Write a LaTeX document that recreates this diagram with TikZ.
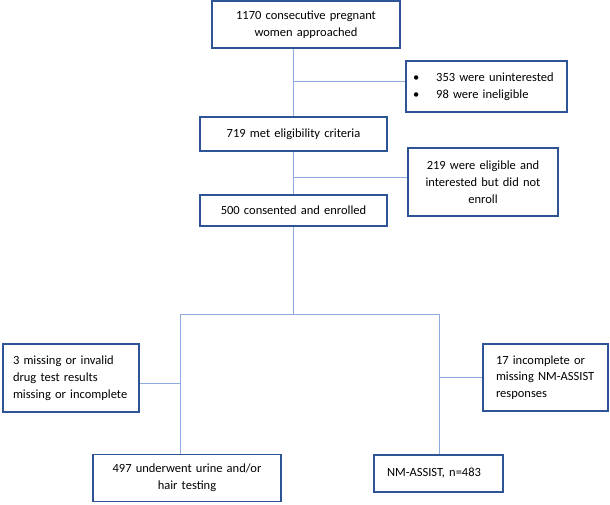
\documentclass[tikz,border=0pt]{standalone}
\usepackage{fontspec}
\setmainfont{Carlito}
\definecolor{boxblue}{HTML}{2F5496}
\definecolor{linkblue}{HTML}{8FAADC}
\tikzset{
  box/.style={draw=boxblue, line width=1.4pt, inner xsep=6pt, inner ysep=2pt,
    font=\fontsize{12.5}{16.8}\selectfont},
  link/.style={draw=linkblue, line width=1pt}
}
\begin{document}
\begin{tikzpicture}[x=1pt,y=-1pt]
\useasboundingbox (0,0) rectangle (610,504);
\node[box, text width=176pt, minimum height=47pt, align=center] (approached) at (306,24.5) {1170 consecutive pregnant\\women approached};
\node[box, text width=147pt, minimum height=51pt, align=left, inner xsep=7pt] (excluded) at (486.5,86.5) {\textbullet\hspace{17pt}353 were uninterested\\\textbullet\hspace{17pt}98 were ineligible};
\node[box, text width=175pt, minimum height=34pt, align=center] (eligible) at (293.5,134) {719 met eligibility criteria};
\node[box, text width=138pt, minimum height=68pt, align=center] (declined) at (483,182) {219 were eligible and\\interested but did not\\enroll};
\node[box, text width=175pt, minimum height=31pt, align=center] (enrolled) at (293.5,210.4) {500 consented and enrolled};
\node[box, text width=116pt, minimum height=68pt, align=left, inner xsep=10pt] (invalid) at (71,378) {3 missing or invalid\\drug test results\\missing or incomplete};
\node[box, text width=99pt, minimum height=67pt, align=left, inner xsep=13pt] (incomplete) at (545.5,377.5) {17 incomplete or\\missing NM-ASSIST\\responses};
\node[box, text width=176pt, minimum height=47pt, align=center] (urine) at (187,478) {497 underwent urine and/or\\hair testing};
\node[box, text width=103pt, minimum height=37pt, align=left, inner xsep=13pt] (assist) at (438.5,473.4) {NM-ASSIST, n=483};
\coordinate (j1) at (293.5,81);
\coordinate (j2) at (293.5,177);
\coordinate (split) at (293.5,314);
\coordinate (left) at (180.5,314);
\coordinate (right) at (439,314);
\draw[link] (eligible.north) -- (eligible.north |- approached.south);
\draw[link] (j1) -- (j1 -| excluded.west);
\draw[link] (enrolled.north) -- (eligible.south);
\draw[link] (j2) -- (j2 -| declined.west);
\draw[link] (enrolled.south) -- (split);
\draw[link] (left) -- (right);
\draw[link] (left) -- (left |- urine.north);
\draw[link] (right) -- (right |- assist.north);
\draw[link] (invalid.east |- 0,383) -- (left |- 0,383);
\draw[link] (right |- incomplete.west) -- (incomplete.west);
\end{tikzpicture}
\end{document}
